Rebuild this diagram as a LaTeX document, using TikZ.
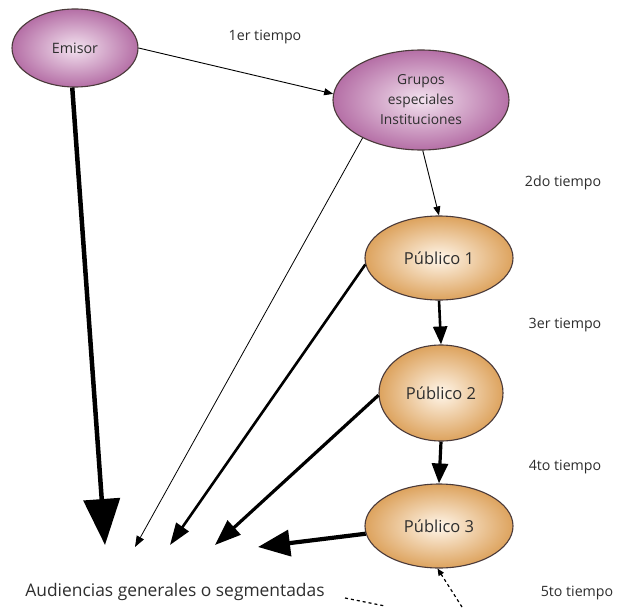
\documentclass[tikz,border=0pt]{standalone}
\usepackage{fontspec}
\setmainfont{Open Sans}
\usetikzlibrary{shapes.geometric,arrows.meta}
\definecolor{txt}{HTML}{2E2E2E}
\definecolor{purpin}{HTML}{F3E2EF}
\definecolor{purpout}{HTML}{B56FA6}
\definecolor{orin}{HTML}{FFF6EA}
\definecolor{orout}{HTML}{DDA35E}
\definecolor{edge}{HTML}{4A3A3A}
\tikzset{
  purp/.style={ellipse, draw=edge, line width=1.1pt, inner sep=0pt,
    inner color=purpin, outer color=purpout, text=txt, align=center},
  oran/.style={ellipse, draw=edge, line width=1.1pt, inner sep=0pt,
    inner color=orin, outer color=orout, text=txt, align=center,
    font=\fontsize{16.5}{18}\selectfont},
  lbl/.style={text=txt, font=\fontsize{14.2}{16}\selectfont, inner sep=0pt},
  conn/.style={draw=black}
}
\begin{document}
\begin{tikzpicture}[x=1pt,y=-1pt]
\useasboundingbox (0,0) rectangle (620,607);
\fill[white] (0,0) rectangle (620,607);
% nodes
\node[purp, minimum width=126pt, minimum height=78pt, font=\fontsize{14.3}{16}\selectfont] (emisor) at (75,48) {Emisor};
\node[purp, minimum width=176pt, minimum height=100pt, font=\fontsize{13.8}{20}\selectfont] (grupos) at (421,100) {Grupos\\especiales\\Instituciones};
\node[oran, minimum width=148pt, minimum height=84pt] (p1) at (439,258) {Público 1};
\node[oran, minimum width=124pt, minimum height=96pt] (p2) at (441,393) {Público 2};
\node[oran, minimum width=148pt, minimum height=84pt] (p3) at (439,526) {Público 3};
% labels
\node[lbl] (t1) at (265,37) {1er tiempo};
\node[lbl] (t2) at (563,183) {2do tiempo};
\node[lbl] (t3) at (565,325) {3er tiempo};
\node[lbl] (t4) at (565,467) {4to tiempo};
\node[lbl] (t5) at (577,593) {5to tiempo};
\node[lbl, font=\fontsize{17.4}{19}\selectfont] (aud) at (175,592) {Audiencias generales o segmentadas};
% free ends
\coordinate (e1) at (105,545);
\coordinate (e2) at (135,547);
\coordinate (e3) at (170,545);
\coordinate (e4) at (215,545);
\coordinate (e5) at (258,547);
\coordinate (d1) at (462,607);
\coordinate (d2a) at (345,598);
\coordinate (d2b) at (385,606);
% connectors
\draw[conn, line width=4.5pt, -{Triangle[length=46pt,width=36pt]}] (emisor.-94) -- (e1);
\draw[conn, line width=0.9pt, -{Triangle[length=9pt,width=7pt]}] (emisor.east) -- (grupos.176);
\draw[conn, line width=0.8pt, -{Triangle[length=11pt,width=8pt]}] (grupos.213) -- (e2);
\draw[conn, line width=0.9pt, -{Triangle[length=9pt,width=7pt]}] (grupos.-88) -- (p1.north);
\draw[conn, line width=2.6pt, -{Triangle[length=22pt,width=15pt]}] (p1.185) -- (e3);
\draw[conn, line width=2.6pt, -{Triangle[length=18pt,width=14pt]}] (p1.south) -- (p2.north);
\draw[conn, line width=3.2pt, -{Triangle[length=26pt,width=19pt]}] (p2.182) -- (e4);
\draw[conn, line width=3.2pt, -{Triangle[length=20pt,width=16pt]}] (p2.south) -- (p3.north);
\draw[conn, line width=4.2pt, -{Triangle[length=32pt,width=26pt]}] (p3.186) -- (e5);
\draw[conn, line width=1.2pt, dashed, -{Triangle[length=7pt,width=6pt]}] (d1) -- (p3.-92);
\draw[conn, line width=1.2pt, dashed] (d2a) -- (d2b);
\end{tikzpicture}
\end{document}
